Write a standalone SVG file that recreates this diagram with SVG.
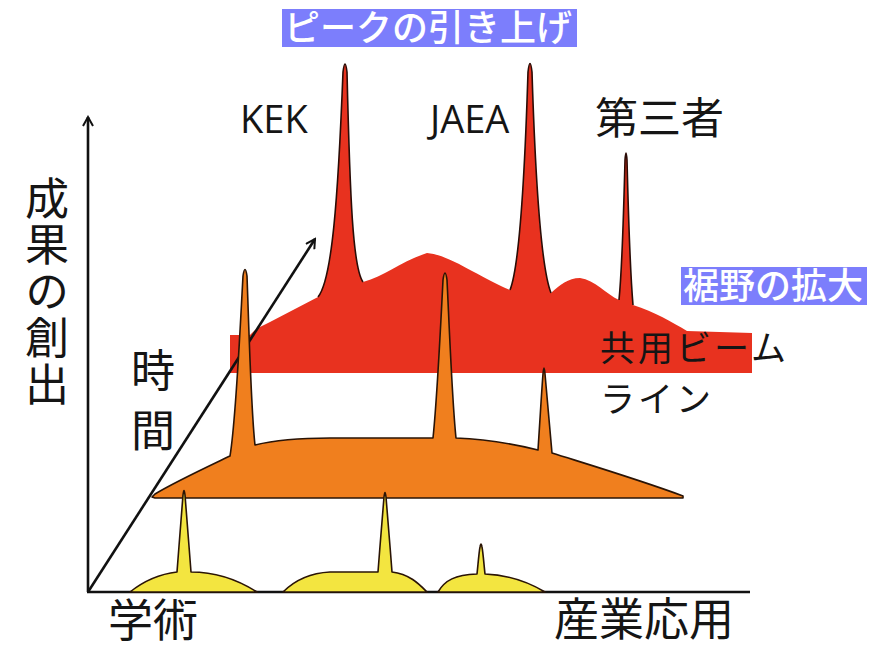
<svg xmlns="http://www.w3.org/2000/svg" width="888" height="649" viewBox="0 0 888 649">
<style>
.jp{font-family:"Noto Sans CJK JP","Noto Sans",sans-serif;fill:#151515}
.en{font-family:"Open Sans","Liberation Sans",sans-serif;fill:#151515}
.hl{font-family:"Noto Sans CJK JP","Noto Sans",sans-serif;fill:#ffffff;font-weight:500}
.vt{writing-mode:vertical-rl}
.box{fill:#7c7efc}
.axis{stroke:#111;stroke-width:2.6;fill:none}
.edge{stroke:#2a0c06;stroke-width:1.6;fill:none;stroke-linejoin:round}
.out{stroke:#2a1406;stroke-width:1.6;stroke-linejoin:round}
</style>
<defs>
<marker id="ah" viewBox="0 0 12 12" refX="10" refY="6" markerWidth="12" markerHeight="12" markerUnits="userSpaceOnUse" orient="auto">
<path d="M1,1 L10,6 L1,11" fill="none" stroke="#111" stroke-width="2"/>
</marker>
</defs>
<rect width="888" height="649" fill="#ffffff"/>

<g id="connectors">
<line class="axis" x1="88" y1="592" x2="88" y2="117" marker-end="url(#ah)"/>
<line class="axis" x1="87" y1="592" x2="750" y2="592"/>
</g>

<g id="red-layer">
<path fill="#e8321f" d="M230,335 L250,335 C256,328 262,326 270,322 L318,297 C332,280 338,200 343,72 Q345,56 347,72 C350,200 353,268 363,282 C385,276 400,262 427,253 C450,255 475,275 510,290 C518,270 524,200 528,72 Q530,55 532,72 C536,200 542,270 551,293 C560,285 568,278 580,278 C595,280 606,294 619,300 C622,270 624,200 625,160 Q626,146 627,160 C628,200 630,270 633,305 C655,312 672,322 687,331 L752,333 L752,373 L230,373 Z"/>
<path class="edge" d="M318,297 C332,280 338,200 343,72 Q345,56 347,72 C350,200 353,268 363,282"/>
<path class="edge" d="M510,290 C518,270 524,200 528,72 Q530,55 532,72 C536,200 542,270 551,293"/>
<path class="edge" d="M619,300 C622,270 624,200 625,160 Q626,146 627,160 C628,200 630,270 633,305"/>
</g>

<g id="time-arrow">
<line class="axis" x1="88" y1="592" x2="315" y2="239" marker-end="url(#ah)"/>
</g>

<g id="orange-layer">
<path class="out" fill="#f07f1e" d="M152,497 L155,494 C175,482 205,468 230,456 C236,420 240,330 243,276 Q245,263 247,276 C249,330 251,410 255,445 C275,440 300,438 330,438 L433,438 C437,400 441,320 443,280 Q445,266 447,280 C449,320 452,400 456,438 C480,439 510,443 538,450 C540,420 542,385 543,374 Q544,362 545,374 C546,385 549,420 552,453 C590,465 640,480 683,496 L683,498 L155,498 Z"/>
</g>

<g id="yellow-layer">
<path class="out" fill="#f3e540" d="M130,592 C145,580 160,574 177,572 C179,545 182,510 183,495 Q184,486 185,495 C186,510 189,545 191,572 C215,572 235,578 257,592 Z"/>
<path class="out" fill="#f3e540" d="M283,592 C295,580 310,573 330,572 L378,572 C380,545 383,510 384,497 Q385,488 386,497 C387,510 390,545 392,572 C410,574 420,585 427,592 Z"/>
<path class="out" fill="#f3e540" d="M438,592 C445,580 455,575 477,574 C478,565 479,552 480,547 Q481,541 482,547 C483,552 484,565 485,574 C510,575 530,583 545,592 Z"/>
</g>

<g id="label-peak">
<rect class="box" x="282" y="9" width="295" height="38"/>
<text class="hl" x="284" y="41" font-size="36">ピークの引き上げ</text>
</g>
<g id="label-base">
<rect class="box" x="681" y="267" width="186" height="38"/>
<text class="hl" x="683" y="299" font-size="36">裾野の拡大</text>
</g>

<g id="label-kek"><text class="en" x="240" y="133" font-size="38">KEK</text></g>
<g id="label-jaea"><text class="en" x="430" y="133" font-size="38">JAEA</text></g>
<g id="label-third"><text class="jp" x="595" y="134" font-size="43">第三者</text></g>
<g id="label-beamline">
<text class="jp" font-size="35" letter-spacing="3"><tspan x="600" y="361">共用ビーム</tspan><tspan x="600" y="412">ライン</tspan></text>
</g>

<g id="label-y"><text class="jp vt" x="47" y="176" font-size="44" letter-spacing="2.5">成果の創出</text></g>
<g id="label-time"><text class="jp vt" x="153" y="348" font-size="44" letter-spacing="16">時間</text></g>
<g id="label-academic"><text class="jp" x="108" y="637" font-size="45">学術</text></g>
<g id="label-industry"><text class="jp" x="554" y="636" font-size="45">産業応用</text></g>
</svg>
